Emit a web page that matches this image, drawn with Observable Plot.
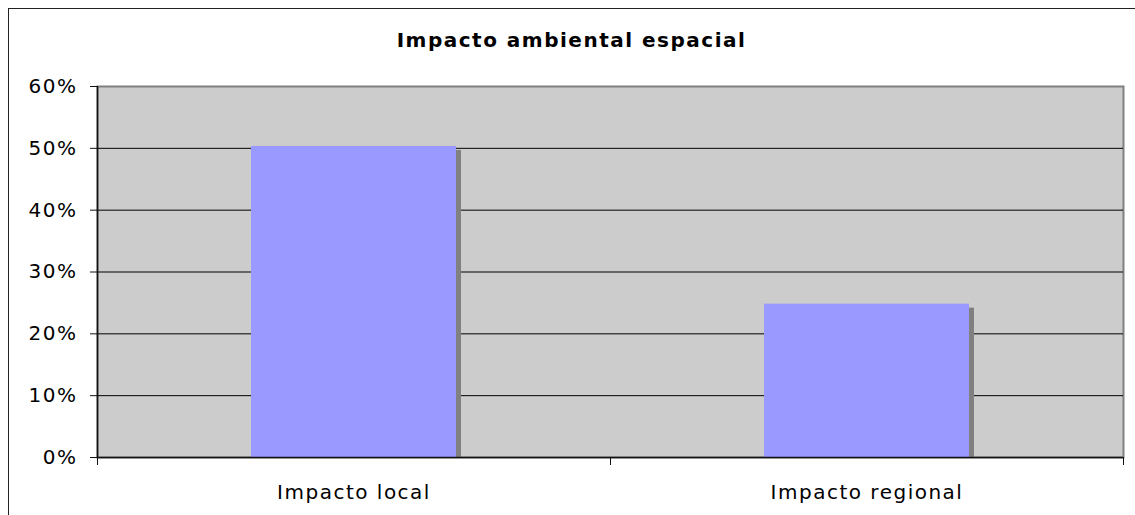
<!DOCTYPE html>
<html>
<head>
<meta charset="utf-8">
<script src="https://cdn.jsdelivr.net/npm/d3@7"></script>
<script src="https://cdn.jsdelivr.net/npm/@observablehq/plot@0.6"></script>
<style>
  html, body { margin: 0; padding: 0; background: #fff; }
  #wrap { position: relative; width: 1135px; height: 515px; overflow: hidden; font-family: "DejaVu Sans", Verdana, sans-serif; }
  #border { position: absolute; left: 8px; top: 8px; width: 1200px; height: 600px; border-top: 1px solid #222; border-left: 1px solid #222; }
  #title { position: absolute; left: 0; top: 30px; width: 1135px; padding-left: 4px; text-align: center; font-size: 20px; line-height: 20px; font-weight: bold; letter-spacing: 1.5px; color: #000; }
  #chart { position: absolute; left: 0; top: 0; }
  #chart svg text { letter-spacing: 1.5px; }
</style>
</head>
<body>
<div id="wrap">
  <div id="border"></div>
  <div id="chart"></div>
  <div id="title"></div>
</div>
<script>
const title = "Impacto ambiental espacial";
const categories = ["Impacto local", "Impacto regional"];
const values = [50.3, 24.8];
const yTicks = [0, 10, 20, 30, 40, 50, 60];
const gridTicks = [10, 20, 30, 40, 50];

document.getElementById("title").textContent = title;

const data = categories.map((c, i) => ({category: c, value: values[i]}));

const W = 1135, H = 515;
const mLeft = 97, mRight = 12, mTop = 86, mBottom = 58;
const step = (W - mLeft - mRight) / categories.length;

const chart = Plot.plot({
  width: W,
  height: H,
  marginLeft: mLeft,
  marginRight: mRight,
  marginTop: mTop,
  marginBottom: mBottom,
  style: {fontFamily: "'DejaVu Sans', Verdana, sans-serif", fontSize: "20px", color: "#000", background: "transparent"},
  x: {type: "band", domain: categories, paddingInner: 0.6, paddingOuter: 0.3, axis: null},
  y: {domain: [0, 60], axis: null},
  marks: [
    Plot.frame({fill: "#cccccc", stroke: "#808080", strokeWidth: 2}),
    Plot.gridY(gridTicks, {stroke: "#000", strokeOpacity: 1, strokeWidth: 1}),
    Plot.barY(data, {x: "category", y: "value", fill: "#808080", dx: 5, dy: 4, clip: true}),
    Plot.barY(data, {x: "category", y: "value", fill: "#9999ff"}),
    Plot.ruleY([0], {stroke: "#111", strokeWidth: 1.5}),
    Plot.ruleX([0], {x: () => categories[0], dx: -step / 2, stroke: "#111", strokeWidth: 1.5}),
    Plot.axisY({ticks: yTicks, tickSize: 7, tickPadding: 13, tickFormat: d => d + "%", stroke: "#111", fill: "#000", fontSize: 20, label: null}),
    Plot.axisX({tickSize: 0, tickPadding: 27, fill: "#000", fontSize: 20, label: null}),
    Plot.axisX({tickSize: 8, tickFormat: null, dx: -step / 2, stroke: "#111", label: null}),
    Plot.axisX([categories[categories.length - 1]], {tickSize: 8, tickFormat: null, dx: step / 2, stroke: "#111", label: null})
  ]
});
document.getElementById("chart").appendChild(chart);
</script>
</body>
</html>
